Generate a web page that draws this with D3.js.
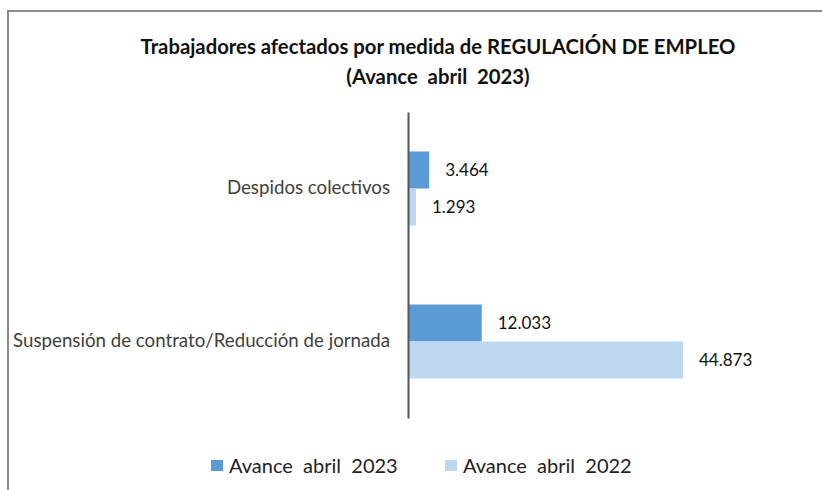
<!DOCTYPE html>
<html>
<head>
<meta charset="utf-8">
<script src="https://cdn.jsdelivr.net/npm/d3@7"></script>
<style>
  body { margin: 0; background: #fff; }
  text { font-family: Lato, "Liberation Sans", Arial, sans-serif; white-space: pre; }
</style>
</head>
<body>
<svg id="chart" width="822" height="490"></svg>
<script>
// Width and height of the SVG
const w = 822;
const h = 490;

// Data
const categories = ["Despidos colectivos", "Suspensión de contrato/Reducción de jornada"];
const seriesNames = ["Avance  abril  2023", "Avance  abril  2022"];
const values2023 = [3464, 12033];
const values2022 = [1293, 44873];
const colors = ["#5b9bd5", "#bdd7ee"];

// Build rows the chart can use
const data = categories.map((c, i) => ({
    category: c,
    values: [values2023[i], values2022[i]]
}));

const svg = d3.select("#chart");

// outer frame (runs off the right and bottom edges like in the picture)
svg.append("rect")
    .attr("x", 8)
    .attr("y", 11)
    .attr("width", 900)
    .attr("height", 600)
    .attr("fill", "none")
    .attr("stroke", "#8a8a8a")
    .attr("stroke-width", 2);

// title
svg.append("text")
    .attr("x", 438)
    .attr("y", 54)
    .attr("text-anchor", "middle")
    .style("font-size", "20.3px")
    .style("font-weight", "bold")
    .style("fill", "#111")
    .text("Trabajadores afectados por medida de REGULACIÓN DE EMPLEO");
svg.append("text")
    .attr("x", 438)
    .attr("y", 84)
    .attr("text-anchor", "middle")
    .style("font-size", "20.3px")
    .style("font-weight", "bold")
    .style("fill", "#111")
    .text("(Avance  abril  2023)");

// scales
const x = d3.scaleLinear()
    .domain([0, 44873])
    .range([408, 683]);

const y = d3.scaleBand()
    .domain(categories)
    .range([112, 418])
    .paddingInner(0.516)
    .paddingOuter(0.258);

const ySub = d3.scaleBand()
    .domain([0, 1])
    .range([0, y.bandwidth()]);

// bars
const groups = svg.selectAll(".cat")
    .data(data)
    .enter()
    .append("g")
    .attr("class", "cat")
    .attr("transform", d => `translate(0,${y(d.category)})`);

groups.selectAll("rect")
    .data(d => d.values)
    .enter()
    .append("rect")
    .attr("x", x(0))
    .attr("y", (d, i) => ySub(i))
    .attr("width", d => x(d) - x(0))
    .attr("height", ySub.bandwidth())
    .attr("fill", (d, i) => colors[i]);

// value labels, spanish thousands separator
const fmt = v => d3.format(",")(v).replace(/,/g, ".");
groups.selectAll(".val")
    .data(d => d.values)
    .enter()
    .append("text")
    .attr("class", "val")
    .attr("x", d => x(d) + 16)
    .attr("y", (d, i) => ySub(i) + ySub.bandwidth() / 2)
    .attr("dy", "0.35em")
    .style("font-size", "17px")
    .style("fill", "#111")
    .text(d => fmt(d));

// category axis (no ticks)
const yAxis = d3.axisLeft(y).tickSize(0).tickPadding(18);
const gAxis = svg.append("g")
    .attr("transform", `translate(${x(0)},0)`)
    .call(yAxis);
gAxis.select(".domain")
    .attr("stroke", "#555")
    .attr("stroke-width", 2);
gAxis.selectAll("text")
    .style("font-family", "Lato, Liberation Sans, Arial, sans-serif")
    .style("font-size", "18.7px")
    .style("fill", "#404040");

// legend
const legendX = [211, 445];
const legend = svg.selectAll(".legend")
    .data(seriesNames)
    .enter()
    .append("g")
    .attr("class", "legend")
    .attr("transform", (d, i) => `translate(${legendX[i]},460)`);
legend.append("rect")
    .attr("width", 12)
    .attr("height", 11)
    .attr("fill", (d, i) => colors[i]);
legend.append("text")
    .attr("x", 18)
    .attr("y", 6)
    .attr("dy", "0.35em")
    .style("font-size", "20px")
    .style("fill", "#222")
    .text(d => d);
</script>
</body>
</html>
